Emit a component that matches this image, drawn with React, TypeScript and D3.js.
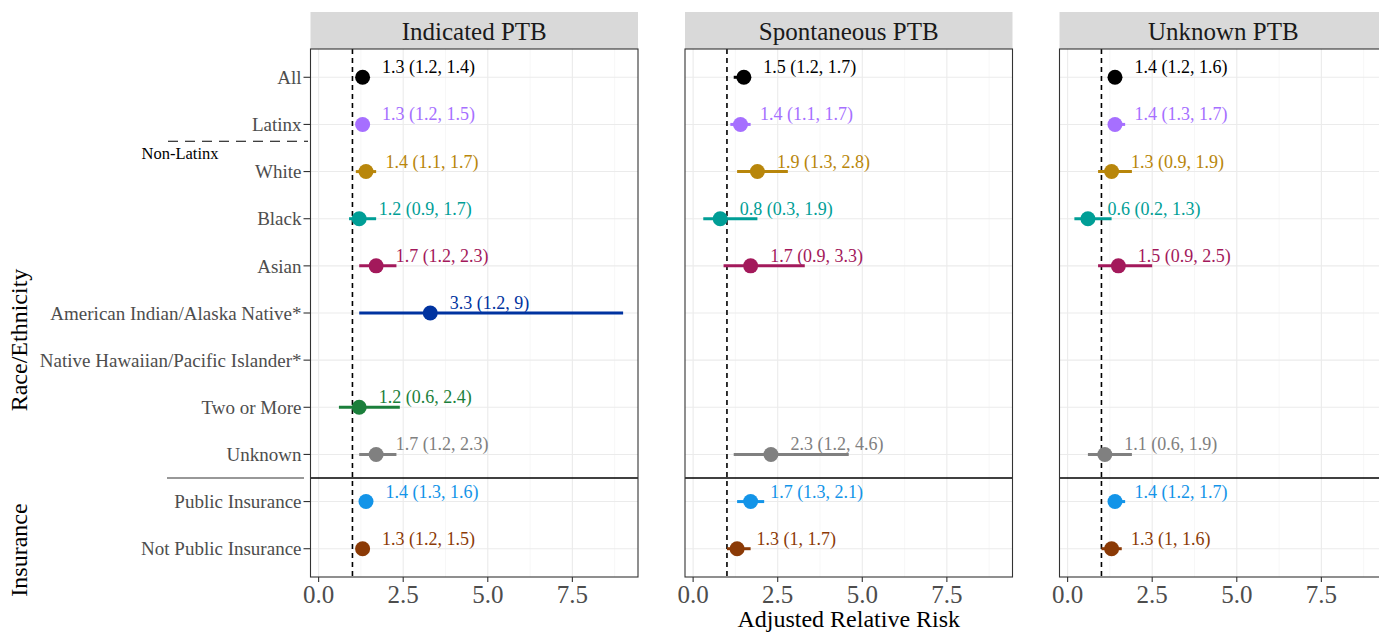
import React from "react";
import * as d3 from "d3";

// rows of the forest plot, top to bottom
const rows = [
  "All",
  "Latinx",
  "White",
  "Black",
  "Asian",
  "American Indian/Alaska Native*",
  "Native Hawaiian/Pacific Islander*",
  "Two or More",
  "Unknown",
  "Public Insurance",
  "Not Public Insurance",
];

const rowColors = [
  "#000000",
  "#A66FFF",
  "#B8860B",
  "#009E96",
  "#A3195B",
  "#0033A0",
  "#E07B00",
  "#1B7F3B",
  "#808080",
  "#1394E8",
  "#8B3A06",
];

const outcomes = ["Indicated PTB", "Spontaneous PTB", "Unknown PTB"];

// adjusted relative risk with 95% CI, null where not estimated
const indicatedEst = [1.3, 1.3, 1.4, 1.2, 1.7, 3.3, null, 1.2, 1.7, 1.4, 1.3];
const indicatedLo = [1.2, 1.2, 1.1, 0.9, 1.2, 1.2, null, 0.6, 1.2, 1.3, 1.2];
const indicatedHi = [1.4, 1.5, 1.7, 1.7, 2.3, 9, null, 2.4, 2.3, 1.6, 1.5];

const spontaneousEst = [1.5, 1.4, 1.9, 0.8, 1.7, null, null, null, 2.3, 1.7, 1.3];
const spontaneousLo = [1.2, 1.1, 1.3, 0.3, 0.9, null, null, null, 1.2, 1.3, 1];
const spontaneousHi = [1.7, 1.7, 2.8, 1.9, 3.3, null, null, null, 4.6, 2.1, 1.7];

const unknownEst = [1.4, 1.4, 1.3, 0.6, 1.5, null, null, null, 1.1, 1.4, 1.3];
const unknownLo = [1.2, 1.3, 0.9, 0.2, 0.9, null, null, null, 0.6, 1.2, 1];
const unknownHi = [1.6, 1.7, 1.9, 1.3, 2.5, null, null, null, 1.9, 1.7, 1.6];

const xTicks = [0, 2.5, 5, 7.5];
const xMinor = [1.25, 3.75, 6.25, 8.75];

const W = 1379;
const H = 632;
const panelW = 327.5;
const panelLefts = [310.5, 685, 1059.5];
const panelTop = 49;
const panelBottom = 577;
const stripTop = 12;
const font = '"Liberation Serif", "Times New Roman", serif';

type Pt = { row: string; est: number; lo: number; hi: number; color: string };

const series = [
  [indicatedEst, indicatedLo, indicatedHi],
  [spontaneousEst, spontaneousLo, spontaneousHi],
  [unknownEst, unknownLo, unknownHi],
];

const panels: Pt[][] = series.map(([e, l, h]) =>
  rows
    .map((r, i) => ({ row: r, est: e[i], lo: l[i], hi: h[i], color: rowColors[i] }))
    .filter((d) => d.est != null) as Pt[]
);

const allVals = series.flatMap(([, l, h]) => [...l, ...h]).filter((v) => v != null) as number[];
const [vMin, vMax] = d3.extent(allVals) as [number, number];
const pad = (vMax - vMin) * 0.05;

const y = d3.scalePoint<string>().domain(rows).range([panelTop, panelBottom]).padding(0.6);
const sepY = ((y("Unknown") as number) + (y("Public Insurance") as number)) / 2;

function Panel({ idx }: { idx: number }) {
  const left = panelLefts[idx];
  const x = d3.scaleLinear().domain([vMin - pad, vMax + pad]).range([left, left + panelW]);
  const data = panels[idx];
  return (
    <g>
      {/* strip */}
      <rect x={left} y={stripTop} width={panelW} height={panelTop - stripTop} fill="#D9D9D9" />
      <text x={left + panelW / 2} y={39.5} textAnchor="middle" fontSize={25} fill="#1A1A1A">
        {outcomes[idx]}
      </text>
      {/* grid */}
      {xMinor.map((t) => (
        <line key={"m" + t} x1={x(t)} x2={x(t)} y1={panelTop} y2={panelBottom} stroke="#F2F2F2" strokeWidth={0.6} />
      ))}
      {xTicks.map((t) => (
        <line key={"M" + t} x1={x(t)} x2={x(t)} y1={panelTop} y2={panelBottom} stroke="#EBEBEB" strokeWidth={1.1} />
      ))}
      {rows.map((r) => (
        <line key={r} x1={left} x2={left + panelW} y1={y(r)} y2={y(r)} stroke="#EBEBEB" strokeWidth={1.1} />
      ))}
      {/* reference line and section separator */}
      <line x1={x(1)} x2={x(1)} y1={panelTop} y2={panelBottom} stroke="#000" strokeWidth={1.6} strokeDasharray="5,4" />
      <line x1={left} x2={left + panelW} y1={sepY} y2={sepY} stroke="#000" strokeWidth={1.3} />
      {/* estimates */}
      {data.map((d) => (
        <g key={d.row}>
          <line x1={x(d.lo)} x2={x(d.hi)} y1={y(d.row)} y2={y(d.row)} stroke={d.color} strokeWidth={3} />
          <circle cx={x(d.est)} cy={y(d.row)} r={7.5} fill={d.color} />
          <text x={x(d.est) + 19.5} y={(y(d.row) as number) - 4} fontSize={18} fill={d.color}>
            {`${d.est} (${d.lo}, ${d.hi})`}
          </text>
        </g>
      ))}
      {/* border */}
      <rect x={left} y={panelTop} width={panelW} height={panelBottom - panelTop} fill="none" stroke="#333" strokeWidth={1.1} />
      {/* x axis */}
      {xTicks.map((t) => (
        <g key={"t" + t}>
          <line x1={x(t)} x2={x(t)} y1={panelBottom} y2={panelBottom + 5} stroke="#333" strokeWidth={1.1} />
          <text x={x(t)} y={603} textAnchor="middle" fontSize={25} fill="#4D4D4D">
            {d3.format(".1f")(t)}
          </text>
        </g>
      ))}
    </g>
  );
}

export default function App() {
  const left0 = panelLefts[0];
  return (
    <svg
      width={W}
      height={H}
      style={{ position: "absolute", left: 0, top: 0, background: "#fff" }}
      fontFamily={font}
    >
      {outcomes.map((o, i) => (
        <Panel key={o} idx={i} />
      ))}
      {/* y axis */}
      {rows.map((r) => (
        <g key={r}>
          <line x1={left0 - 7} x2={left0} y1={y(r)} y2={y(r)} stroke="#333" strokeWidth={1.1} />
          <text x={left0 - 9} y={y(r)} dy="0.35em" textAnchor="end" fontSize={19} fill="#4D4D4D">
            {r}
          </text>
        </g>
      ))}
      {/* group annotations */}
      <line x1={168} x2={308} y1={141.3} y2={141.3} stroke="#000" strokeWidth={1.1} strokeDasharray="10,7" />
      <text x={141.5} y={158.5} fontSize={16.5} fill="#000">
        Non-Latinx
      </text>
      <line x1={167} x2={304} y1={sepY} y2={sepY} stroke="#333" strokeWidth={1.1} />
      <text transform="translate(27,340) rotate(-90)" textAnchor="middle" fontSize={24} fill="#000">
        Race/Ethnicity
      </text>
      <text transform="translate(27,550) rotate(-90)" textAnchor="middle" fontSize={24} fill="#000">
        Insurance
      </text>
      <text x={panelLefts[1] + panelW / 2} y={627} textAnchor="middle" fontSize={24} fill="#000">
        Adjusted Relative Risk
      </text>
    </svg>
  );
}
